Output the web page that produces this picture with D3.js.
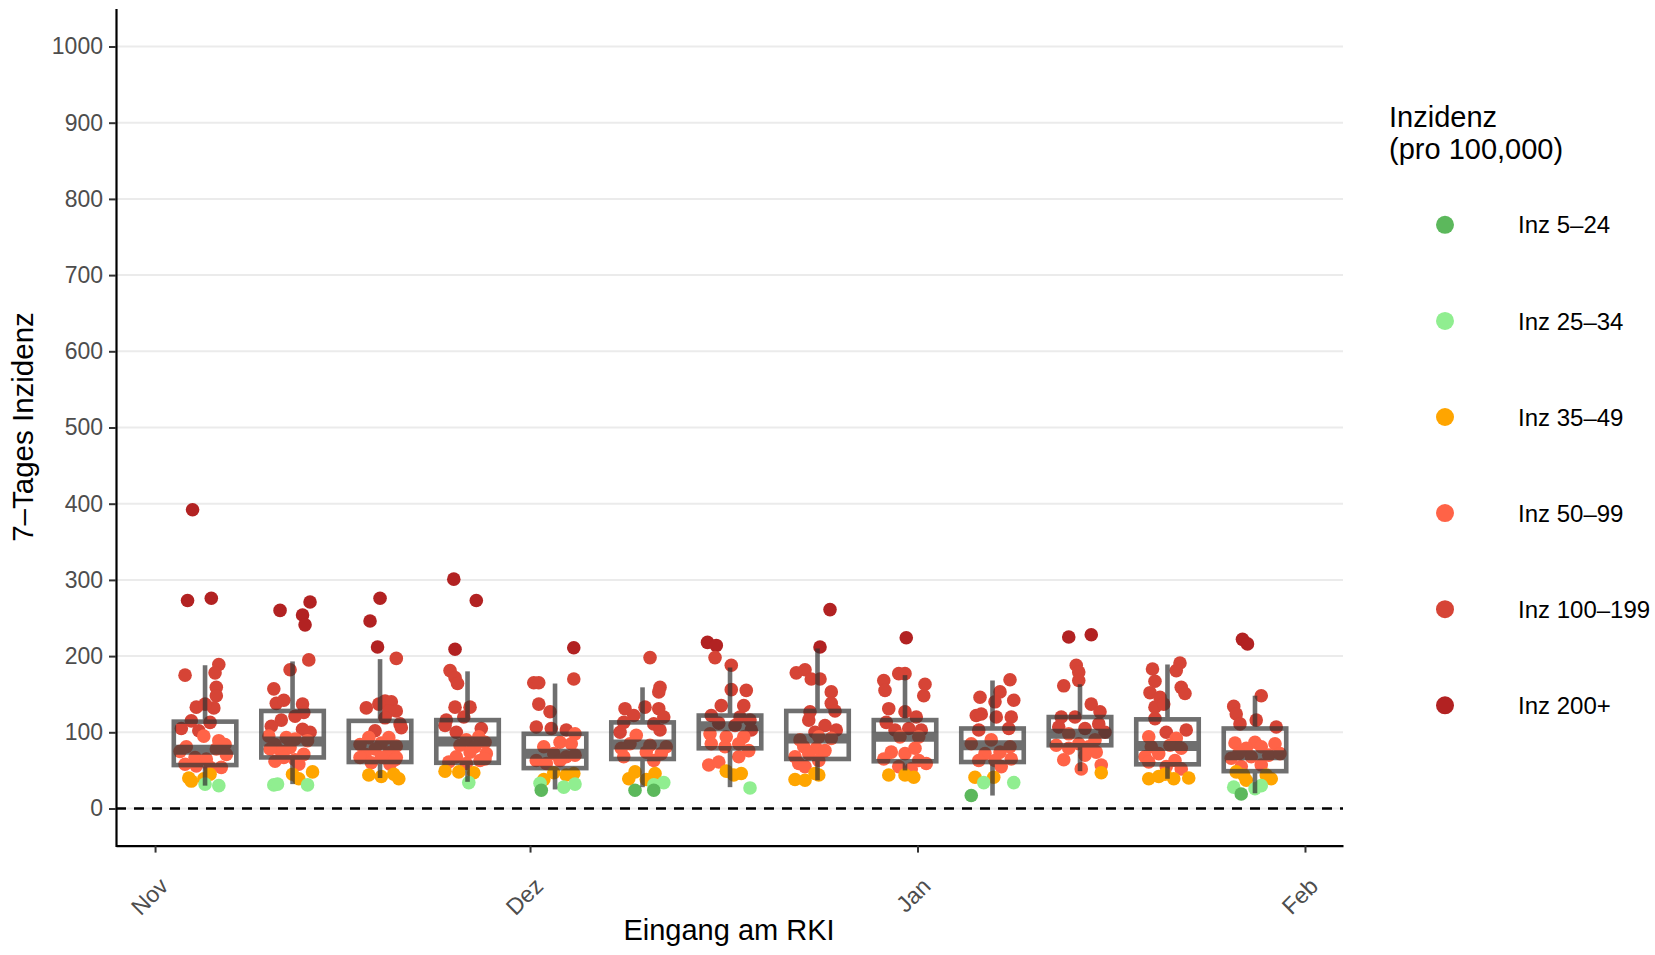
<!DOCTYPE html>
<html><head><meta charset="utf-8">
<script src="https://cdn.jsdelivr.net/npm/d3@7"></script>
<style>body{margin:0;background:#fff} svg{display:block;font-family:"Liberation Sans",Arial,Helvetica,sans-serif}</style>
</head><body><svg id="chart" width="1655" height="955"></svg>
<script>
// ---------- data ----------
const weekDates = ["2020-11-05","2020-11-12","2020-11-19","2020-11-26","2020-12-03","2020-12-10","2020-12-17","2020-12-24","2020-12-31","2021-01-07","2021-01-14","2021-01-21","2021-01-28"];
const boxQ1     = [57, 67, 61, 60, 53, 65, 79, 65, 62, 61, 83, 58, 49];
const boxMedian = [77, 88, 83, 88, 72, 84,108, 92, 94, 83, 98, 82, 70];
const boxQ3     = [114,128,115,116, 98,113,122,128,116,105,120,117,105];
const whiskLow  = [30, 32, 40, 35, 25, 28, 28, 37, 50, 17, 49, 39, 20];
const whiskHigh = [188,193,196,180,164,159,185,210,175,168,163,189,148];

// points per week: [offset from week centre in days (jitter), 7-day incidence]
const pointsW01 = [[-1.0,392],[-1.4,273],[0.5,276],[1.1,189],[0.8,178],[-1.6,175],[0.9,159],[0.9,148],[-0.7,133],[0.7,132],[0,137],[-1.1,115],[0.4,113],[-1.9,105],[-0.5,102],[-0.1,95],[1.1,89],[1.6,84],[-1.5,81],[-2.0,75],[0.9,78],[1.7,71],[-0.8,67],[0.1,65],[-1.6,58],[1.3,54],[-0.7,56],[0.4,54],[-1.3,40],[-1.1,36],[0.4,45],[-0.1,39],[0,32],[1.1,30]];
const pointsW02 = [[-1.0,260],[1.4,271],[0.8,254],[1.0,241],[1.3,195],[-0.2,182],[-1.5,157],[-1.3,138],[-0.7,142],[0.8,137],[-0.9,116],[0.9,126],[0.2,121],[-1.7,108],[1.4,100],[0.8,104],[-1.9,95],[-0.5,93],[-1.4,84],[0.2,91],[1.2,89],[-0.9,75],[-1.8,78],[-0.2,80],[0.9,71],[0.2,64],[-0.7,67],[0.5,58],[-1.4,62],[0,45],[1.6,48],[0.5,39],[-1.5,31],[-1.2,32],[1.2,31]];
const pointsW03 = [[0,276],[-0.8,246],[-0.2,212],[1.3,197],[-1.1,132],[0.4,141],[0.9,140],[1.3,128],[-0.1,137],[0.7,128],[0.4,119],[1.6,111],[1.7,106],[-0.4,102],[-0.9,93],[0.7,93],[-1.6,84],[0.1,86],[1.3,82],[-0.4,78],[0.7,73],[-1.2,71],[-1.6,67],[0.1,67],[1.3,67],[-0.7,60],[0.8,58],[1.2,64],[-0.9,44],[0.1,42],[1.1,45],[1.5,39]];
const pointsW04 = [[-1.1,301],[0.7,273],[-1.0,209],[-1.4,181],[-1.0,172],[-0.8,164],[-1.0,133],[0.2,133],[-1.7,116],[-0.3,120],[1.1,105],[-0.9,100],[-1.8,109],[0.9,94],[-0.1,90],[1.4,87],[-0.6,83],[0.6,81],[0.2,74],[1.5,72],[-0.9,68],[1.0,63],[-1.5,61],[-0.1,59],[1.4,65],[-1.8,49],[0.5,47],[-0.7,48],[0.1,34]];
const pointsW05 = [[1.5,211],[-1.7,165],[-1.3,165],[1.5,170],[-1.3,137],[-0.4,127],[-1.5,107],[-0.3,105],[0.9,103],[1.6,98],[-0.9,81],[0.4,87],[1.3,85],[-0.1,72],[-1.5,63],[0.9,68],[1.6,70],[-0.7,59],[0.4,63],[-0.9,38],[-0.1,47],[1.5,46],[0.9,44],[-1.2,33],[0.7,28],[1.6,32],[-1.1,24]];
const pointsW06 = [[0.6,198],[1.4,159],[1.3,153],[-1.4,131],[0.2,133],[1.3,131],[-0.7,122],[1.7,120],[-1.5,113],[0.9,111],[1.4,103],[-1.8,100],[-0.5,96],[-1.0,85],[0.6,83],[1.9,81],[-1.7,79],[0.3,74],[1.5,72],[-1.5,68],[0.9,63],[-1.1,39],[-0.6,48],[1.0,46],[0.3,38],[1.7,34],[0.9,31],[-0.6,24],[0.9,24]];
const pointsW07 = [[-1.8,218],[-1.1,214],[-1.2,198],[0.1,188],[0.1,156],[1.3,155],[1.1,135],[-0.7,135],[-1.5,122],[0.8,120],[1.6,116],[-0.9,112],[0.4,109],[1.7,103],[-1.6,98],[-0.3,94],[1.1,94],[-1.5,85],[-0.4,81],[0.7,85],[1.5,76],[0.7,68],[-1.7,57],[-0.9,61],[-0.3,49],[0.9,46],[0.3,44],[1.6,27]];
const pointsW08 = [[1.0,261],[0.2,212],[-1.7,178],[-1.0,182],[-0.5,170],[0.2,170],[1.1,153],[1.1,138],[1.4,128],[-0.7,116],[-0.6,127],[0.6,109],[1.5,103],[-0.2,100],[-1.4,90],[0.1,94],[1.1,92],[-1.1,81],[-0.1,79],[-1.8,68],[-0.7,72],[0.6,76],[-1.5,59],[-1.0,55],[0.1,63],[-1.8,38],[-1.0,37],[-0.2,46],[0.1,44]];
const pointsW09 = [[0.1,224],[-1.7,168],[-0.5,177],[0,177],[1.6,163],[1.5,148],[-1.6,155],[-1.3,131],[0,127],[0.9,120],[-1.5,113],[-0.8,103],[0.3,105],[1.3,103],[-0.4,94],[1.1,94],[-1.1,74],[-1.7,65],[0,72],[0.8,79],[1.1,63],[1.7,59],[-0.5,55],[0.5,52],[-1.3,44],[0,44],[0.7,41]];
const pointsW10 = [[1.4,169],[0.6,153],[-1.0,146],[1.7,142],[0.2,140],[-1.3,122],[0.3,120],[1.5,120],[-0.9,124],[-1.1,103],[1.3,105],[-1.7,85],[-0.1,90],[1.4,81],[-0.6,72],[0.6,74],[-1.1,63],[0.2,63],[1.5,65],[0.7,55],[-1.4,41],[0.1,41],[-0.7,34],[1.7,34],[-1.7,17]];
const pointsW11 = [[-0.9,225],[0.9,228],[-0.3,188],[-0.1,179],[-0.1,168],[-1.3,161],[0.9,137],[1.6,127],[-1.5,120],[-0.4,120],[1.5,111],[-1.7,107],[0.4,105],[-0.9,98],[2.0,100],[1.2,90],[-1.9,83],[-0.1,85],[-0.9,79],[0.7,81],[1.3,74],[-1.3,64],[0.4,70],[1.7,57],[0.1,52],[1.7,47]];
const pointsW12 = [[1.0,191],[0.7,181],[-1.2,183],[-1.0,167],[1.1,159],[1.4,151],[-1.4,152],[-0.6,146],[-1.0,133],[-0.3,137],[-1.0,118],[-0.1,100],[1.5,103],[-1.5,94],[0.7,92],[-1.3,81],[0.2,83],[1.1,79],[-1.8,68],[-0.7,72],[0.6,63],[-1.5,61],[-0.1,55],[1.1,52],[-1.5,39],[-0.7,42],[0.5,39],[1.7,40],[-0.2,45]];
const pointsW13 = [[-1.0,222],[-0.6,216],[0.5,148],[-1.7,134],[-1.5,124],[-1.2,111],[0.1,116],[1.7,107],[-1.6,86],[0,87],[1.6,85],[-0.7,79],[0.5,81],[-1.3,72],[-0.3,68],[1.1,70],[2.0,72],[-1.9,66],[0.5,57],[-1.1,55],[-1.5,48],[-0.7,37],[0.9,44],[1.3,39],[-0.9,44],[-1.7,28],[0.5,30],[0,26],[-1.1,19]];
const pointsByWeek = [pointsW01,pointsW02,pointsW03,pointsW04,pointsW05,pointsW06,pointsW07,pointsW08,pointsW09,pointsW10,pointsW11,pointsW12,pointsW13];

const categoryLabels = ["Inz 5–24","Inz 25–34","Inz 35–49","Inz 50–99","Inz 100–199","Inz 200+"];
const categoryBreaks = [25, 35, 50, 100, 200];
const categoryColors = ["#5CB85C","#90EE90","#FFA500","#FF6347","#D64436","#B22222"];

const yTicks = [0,100,200,300,400,500,600,700,800,900,1000];
const yDomain = [-50, 1050];
const monthTicks = ["2020-11-01","2020-12-01","2021-01-01","2021-02-01"];
const monthLabels = ["Nov","Dez","Jan","Feb"];
const xDomain = ["2020-10-28T21:00:00Z","2021-02-04T01:00:00Z"];
const boxWidthDays = 5;

// ---------- chart ----------
(function () {
const svg = d3.select("#chart");
const parse = s => new Date(s.length === 10 ? s + "T00:00:00Z" : s);
const DAY = 864e5;

const pL = 116, pR = 1343, pT = 8.4, pB = 846.6;
const x = d3.scaleUtc().domain(xDomain.map(parse)).range([pL, pR]);
const y = d3.scaleLinear().domain(yDomain).range([pB, pT]);
const color = d3.scaleThreshold().domain(categoryBreaks).range(categoryColors);

// grid
svg.append("g").selectAll("line").data(yTicks).join("line")
  .attr("x1", pL).attr("x2", pR)
  .attr("y1", d => y(d)).attr("y2", d => y(d))
  .attr("stroke", "#ebebeb").attr("stroke-width", 2);

// zero line
svg.append("line").attr("x1", pL).attr("x2", pR)
  .attr("y1", y(0)).attr("y2", y(0))
  .attr("stroke", "#000").attr("stroke-width", 2.4).attr("stroke-dasharray", "10,8");

// points
const pts = [];
pointsByWeek.forEach((arr, i) => {
  const c = parse(weekDates[i]).getTime();
  arr.forEach(([dx, v]) => pts.push({t: new Date(c + dx * DAY), v}));
});
svg.append("g").selectAll("circle").data(pts).join("circle")
  .attr("cx", d => x(d.t)).attr("cy", d => y(d.v)).attr("r", 6.8)
  .attr("fill", d => color(d.v));

// boxes
const boxes = svg.append("g").attr("opacity", 0.7);
weekDates.forEach((wd, i) => {
  const c = parse(wd).getTime();
  const x0 = x(new Date(c - boxWidthDays / 2 * DAY)), x1 = x(new Date(c + boxWidthDays / 2 * DAY)), xc = x(new Date(c));
  const g = boxes.append("g");
  g.append("line").attr("x1", xc).attr("x2", xc).attr("y1", y(boxQ3[i])).attr("y2", y(whiskHigh[i]))
    .attr("stroke", "#333").attr("stroke-width", 4.6);
  g.append("line").attr("x1", xc).attr("x2", xc).attr("y1", y(boxQ1[i])).attr("y2", y(whiskLow[i]))
    .attr("stroke", "#333").attr("stroke-width", 4.6);
  g.append("rect").attr("x", x0).attr("width", x1 - x0)
    .attr("y", y(boxQ3[i])).attr("height", y(boxQ1[i]) - y(boxQ3[i]))
    .attr("fill", "none").attr("stroke", "#333").attr("stroke-width", 4.6);
  g.append("line").attr("x1", x0).attr("x2", x1).attr("y1", y(boxMedian[i])).attr("y2", y(boxMedian[i]))
    .attr("stroke", "#333").attr("stroke-width", 10);
});

// y axis
const yAxis = svg.append("g").attr("transform", `translate(${pL},0)`)
  .call(d3.axisLeft(y).tickValues(yTicks).tickFormat(d3.format("d")).tickSize(7).tickSizeOuter(0).tickPadding(6));
yAxis.select(".domain").attr("stroke", "#000").attr("stroke-width", 2.2);
yAxis.selectAll(".tick line").attr("stroke", "#333").attr("stroke-width", 2);
yAxis.selectAll(".tick text").attr("fill", "#4d4d4d").attr("font-size", 23)
  .attr("font-family", '"Liberation Sans",Arial,sans-serif');

// x axis
const xAxis = svg.append("g").attr("transform", `translate(0,${pB - 1})`)
  .call(d3.axisBottom(x).tickValues(monthTicks.map(parse)).tickFormat((d, i) => monthLabels[i]).tickSize(7).tickSizeOuter(0));
xAxis.select(".domain").attr("stroke", "#000").attr("stroke-width", 2.2);
xAxis.selectAll(".tick line").attr("stroke", "#333").attr("stroke-width", 2);
xAxis.selectAll(".tick text").attr("fill", "#4d4d4d").attr("font-size", 23)
  .attr("font-family", '"Liberation Sans",Arial,sans-serif')
  .attr("y", 0).attr("dy", 0).attr("text-anchor", "end")
  .attr("transform", "translate(14,42) rotate(-45)");

// axis titles
svg.append("text").attr("x", 729).attr("y", 940).attr("text-anchor", "middle")
  .attr("font-size", 29).attr("fill", "#000").text("Eingang am RKI");
svg.append("text").attr("transform", "translate(33,427) rotate(-90)").attr("text-anchor", "middle")
  .attr("font-size", 29.5).attr("fill", "#000").text("7–Tages Inzidenz");

// legend
const lg = svg.append("g");
lg.append("text").attr("x", 1389).attr("y", 127).attr("font-size", 29).text("Inzidenz");
lg.append("text").attr("x", 1389).attr("y", 159).attr("font-size", 29).text("(pro 100,000)");
const items = lg.selectAll("g.item").data(categoryLabels).join("g").attr("class", "item")
  .attr("transform", (d, i) => `translate(0,${224.8 + i * 96.1})`);
items.append("circle").attr("cx", 1445).attr("cy", 0).attr("r", 9).attr("fill", (d, i) => categoryColors[i]);
items.append("text").attr("x", 1518).attr("y", 0).attr("dy", "0.36em").attr("font-size", 24).text(d => d);
})();
</script></body></html>
